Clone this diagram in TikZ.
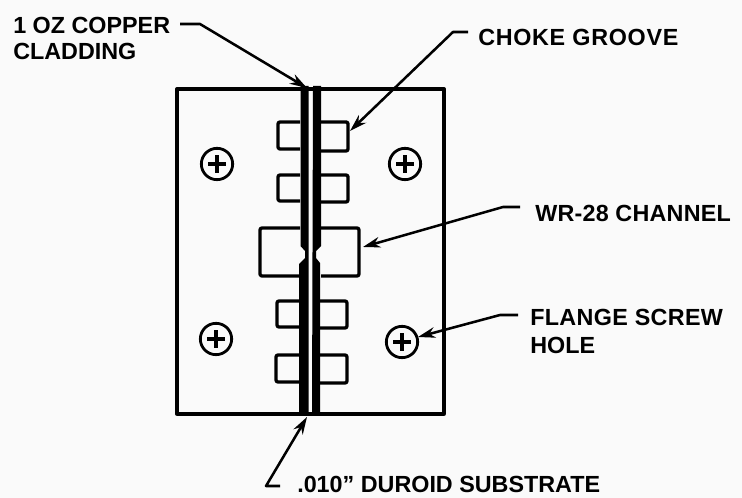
\documentclass[tikz,border=0pt]{standalone}
\usepackage{fontspec}
\setmainfont{Liberation Sans}
\usetikzlibrary{arrows.meta}
\tikzset{
 wall/.style={line width=2.5pt,line join=round},
 strip/.style={fill=black,draw=none},
 leader/.style={line width=1.9pt,line join=round,-{Stealth[length=13pt,width=8pt]}},
 lab/.style={font=\bfseries\fontsize{17.5pt}{21pt}\selectfont,align=left,anchor=west,inner sep=0pt,text=black},
 hole/.style={circle,draw,line width=2.1pt,minimum size=23.5pt,inner sep=0pt,path picture={
   \draw[line width=2.6pt] ([xshift=-6.5pt]path picture bounding box.center)--([xshift=6.5pt]path picture bounding box.center);
   \draw[line width=2.6pt] ([yshift=-6.5pt]path picture bounding box.center)--([yshift=6.5pt]path picture bounding box.center);}}
}
\begin{document}
\begin{tikzpicture}[x=0.75pt,y=-0.75pt]
\useasboundingbox (0,0) rectangle (742,498);
\fill[white!98!black] (0,0) rectangle (742,498);
% body
\draw[wall] (177,89) rectangle (444,414);
% grooves
\draw[wall,rounded corners=1.5pt] (300,122)--(278,122)--(278,149)--(300,149);
\draw[wall,rounded corners=1.5pt] (321,122)--(348,122)--(348,151)--(321,151);
\draw[wall,rounded corners=1.5pt] (300,175)--(278,175)--(278,201)--(300,201);
\draw[wall,rounded corners=1.5pt] (321,175)--(348,175)--(348,202)--(321,202);
\draw[wall,rounded corners=1.5pt] (300,228)--(260,228)--(260,276)--(300,276);
\draw[wall,rounded corners=1.5pt] (321,228)--(359,228)--(359,276)--(321,276);
\draw[wall,rounded corners=1.5pt] (300,301)--(277,301)--(277,327)--(300,327);
\draw[wall,rounded corners=1.5pt] (320,301)--(347,301)--(347,328)--(320,328);
\draw[wall,rounded corners=1.5pt] (300,355)--(276,355)--(276,382)--(300,382);
\draw[wall,rounded corners=1.5pt] (320,355)--(347,355)--(347,383)--(320,383);
% cladding strips
\path[strip] (300.5,86)--(308.5,86)--(308.5,416)--(299,416)--(299,264)--(305,258)--(305,251)--(300.5,246)--cycle;
\path[strip] (313,86)--(321,86)--(321,246)--(316,251)--(316,258)--(320,263)--(320,416)--(312,416)--cycle;
% screw holes
\node[hole] (h1) at (217,164) {};
\node[hole] (h2) at (405,164) {};
\node[hole] (h3) at (216,339) {};
\node[hole] (h4) at (402,342) {};
% labels
\node[lab] (copper) at (13,25) {1 OZ COPPER};
\node[lab] (clad) at (13,51) {CLADDING};
\node[lab] (choke) at (478,37) {\addfontfeature{LetterSpace=3}CHOKE GROOVE};
\node[lab] (wr) at (535,213) {\addfontfeature{LetterSpace=1}WR-28 CHANNEL};
\node[lab] (flange) at (530,317) {\addfontfeature{LetterSpace=1.5}FLANGE SCREW};
\node[lab] (holetxt) at (530,345) {HOLE};
\node[lab] (duroid) at (297,484) {.010'' DUROID SUBSTRATE};
% leaders
\coordinate (t1) at (307,88);
\coordinate (t2) at (350,131);
\coordinate (t3) at (363,247);
\coordinate (t4) at (418,337);
\coordinate (t5) at (307,417);
\draw[leader] (180,24)--(200,24)--(t1);
\draw[leader] (468,32)--(453,32)--(t2);
\draw[leader] (520,207)--(503,207)--(t3);
\draw[leader] (518,315)--(500,315)--(t4);
\draw[leader] (280,486)--(266,486)--(t5);
\end{tikzpicture}
\end{document}
